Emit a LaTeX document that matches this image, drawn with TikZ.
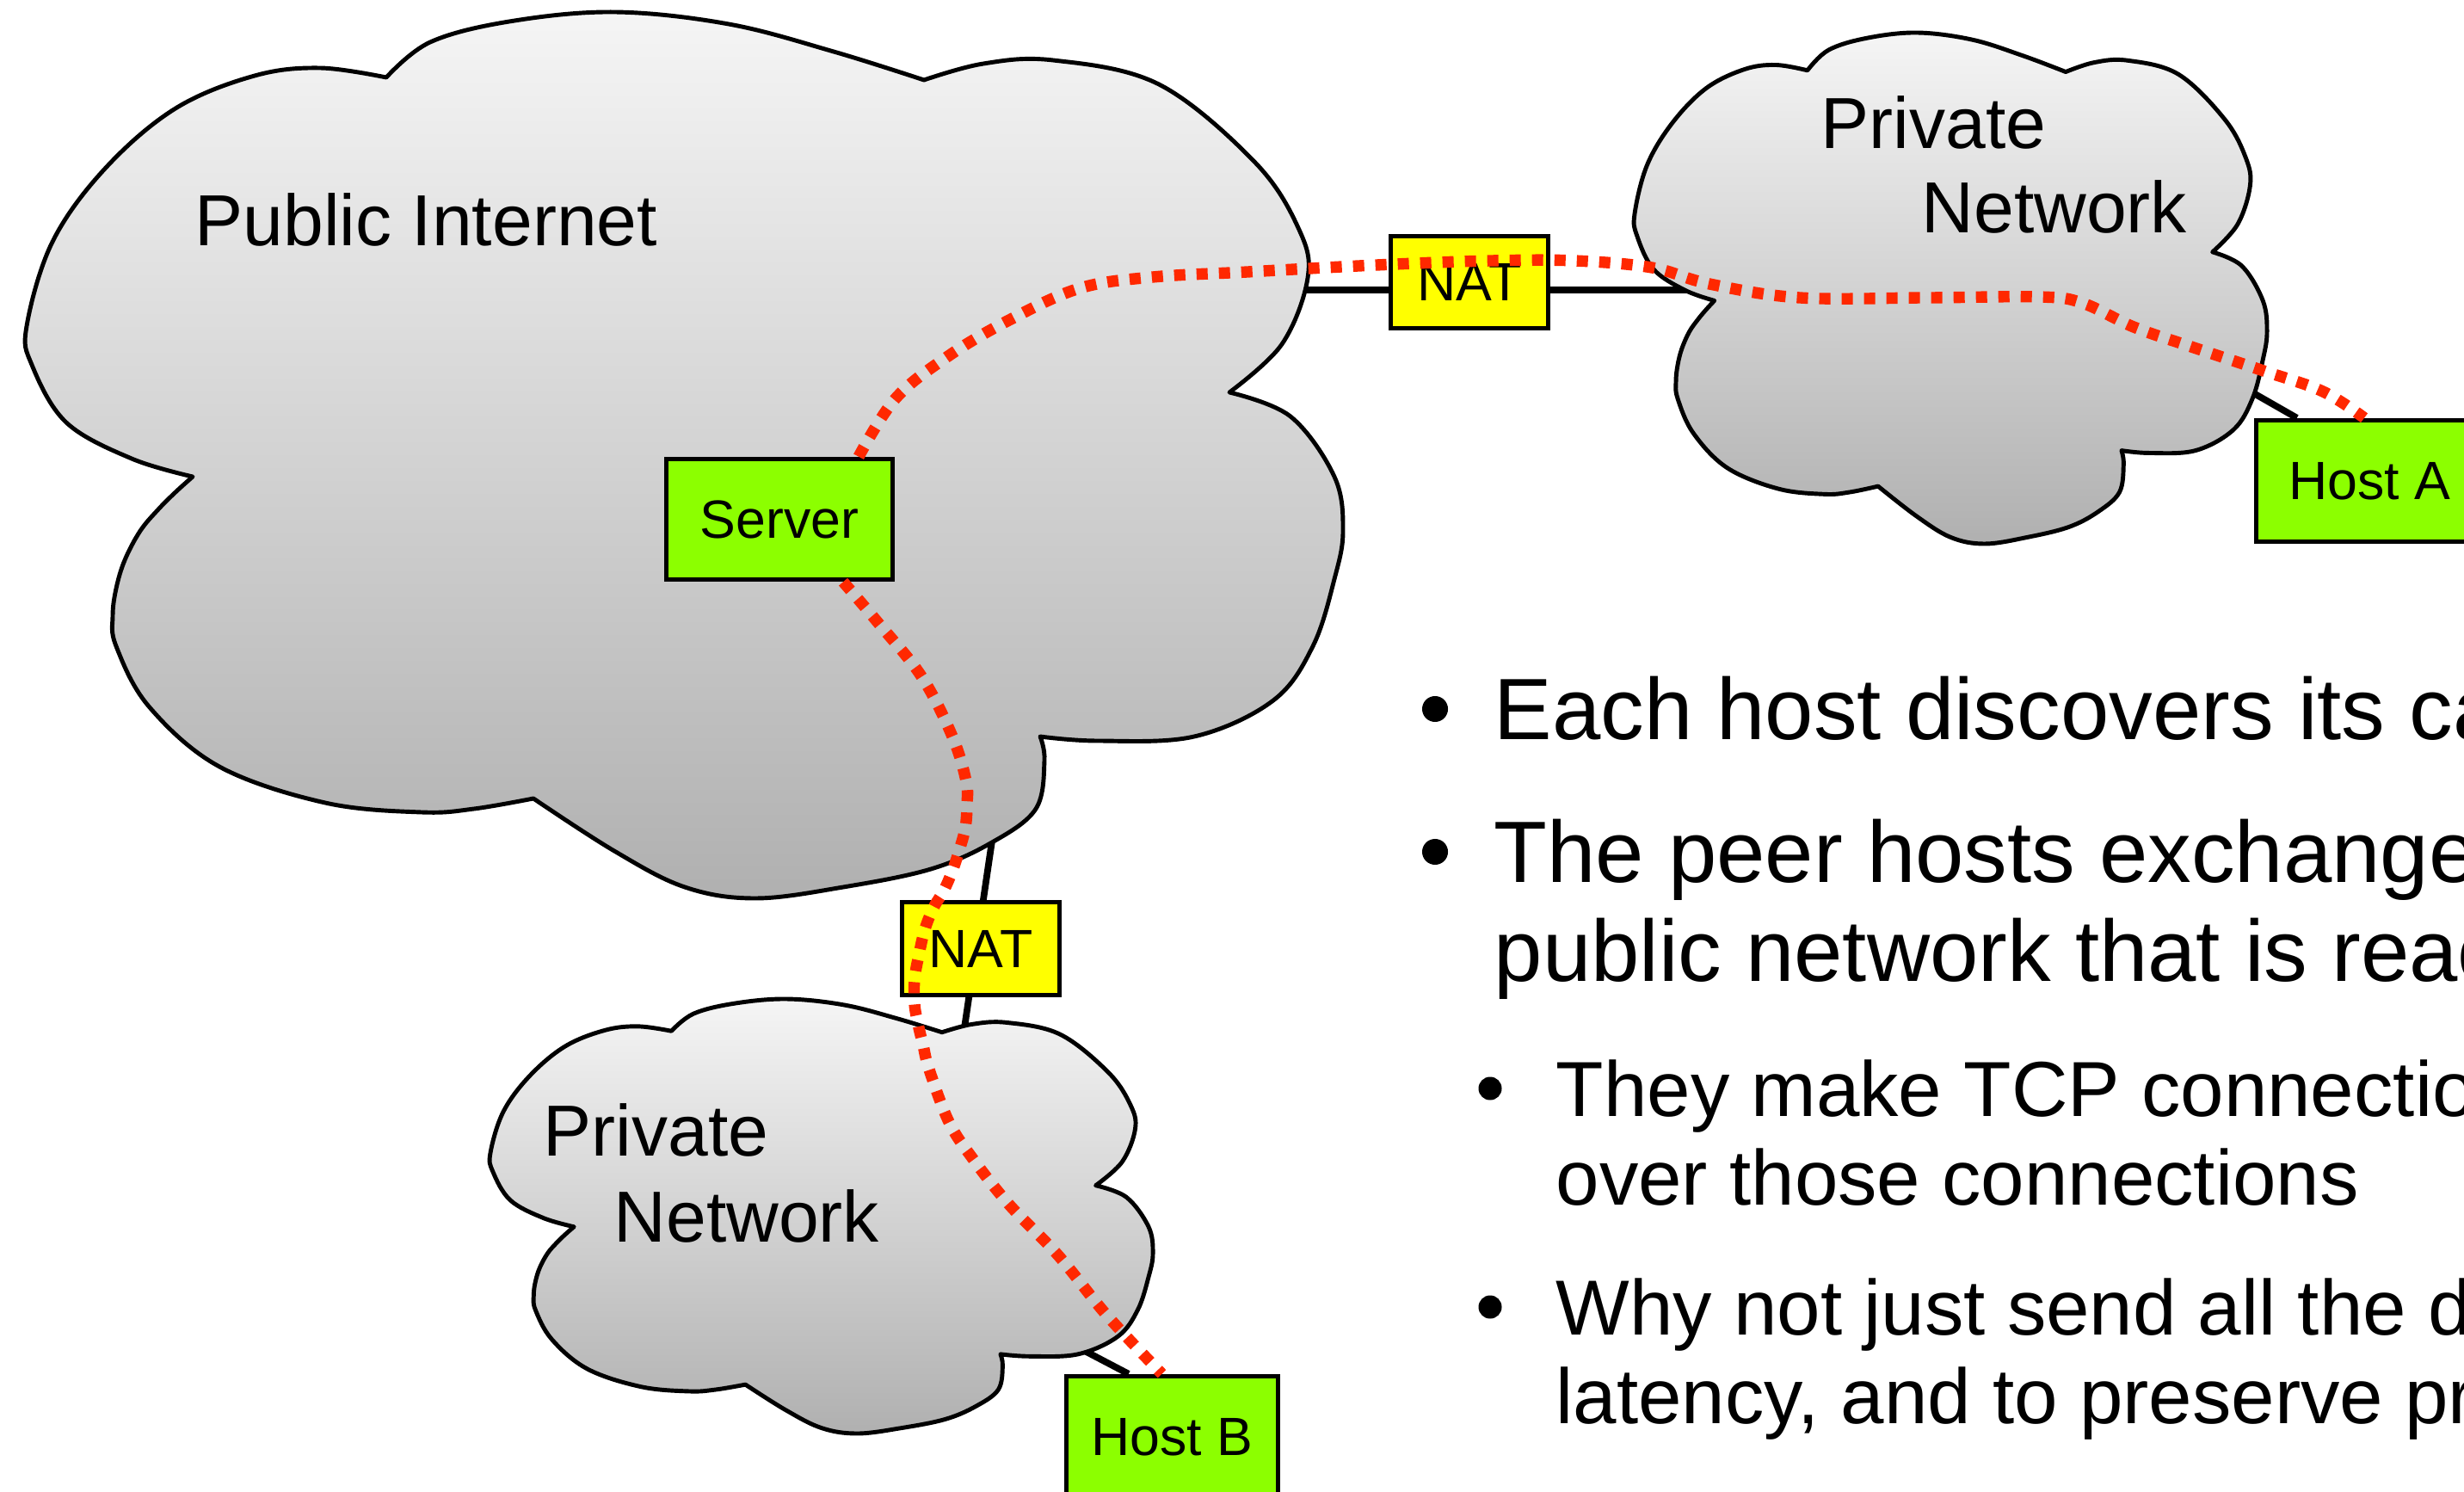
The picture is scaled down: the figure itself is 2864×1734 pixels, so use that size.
\documentclass[tikz,border=0pt]{standalone}
\usepackage{fontspec}
\setmainfont{Liberation Sans}
\definecolor{natyellow}{RGB}{255,255,0}
\definecolor{hostgreen}{RGB}{140,255,0}
\definecolor{cloudtop}{RGB}{245,245,245}
\definecolor{cloudbottom}{RGB}{176,176,176}
\definecolor{punchred}{RGB}{255,40,0}
\pgfdeclarelayer{links}
\pgfdeclarelayer{clouds}
\pgfsetlayers{links,clouds,main}
\begin{document}
\begin{tikzpicture}[x=0.01cm, y=-0.01cm,
  netbox/.style={draw=black, line width=1.55pt, rectangle, inner sep=0pt,
    font=\fontsize{17.8}{21}\selectfont},
  natbox/.style={netbox, fill=natyellow, minimum width=1.83cm, minimum height=1.07cm},
  hostbox/.style={netbox, fill=hostgreen, minimum height=1.40cm},
  link/.style={line width=2.2pt, draw=black},
  cloudshape/.style={draw=black, line width=1.4pt, line join=round,
    top color=cloudtop, bottom color=cloudbottom},
  cloudlabel/.style={anchor=base west, inner sep=0pt, font=\fontsize{23.9}{28}\selectfont},
  punch/.style={draw=punchred, line width=3.8pt, dash pattern=on 3.7pt off 3.7pt},
  itemA/.style={anchor=base west, inner sep=0pt, font=\fontsize{28.8}{34}\selectfont},
  itemB/.style={anchor=base west, inner sep=0pt, font=\fontsize{25.8}{31}\selectfont},
]
\useasboundingbox (0,0) rectangle (2864,1734);
\clip (0,0) rectangle (2864,1734);

% ---- clouds: one outline, placed three times ----
\begin{pgfonlayer}{clouds}
\foreach \cx/\cy/\kx/\ky in {31/14/1/1, 1900/38/0.4804/0.5767, 570/1161/0.5033/0.4903}{
  \begin{scope}[shift={(\cx,\cy)}, xscale=\kx, yscale=\ky]
    \draw[cloudshape]
      plot[smooth, tension=0.6] coordinates {(193,540) (122,519) (46,477) (6,410) (0,365) (30,267) (91,182) (173,112) (265,74) (341,65) (418,76)}
      -- plot[smooth, tension=0.6] coordinates {(418,76) (469,35) (561,11) (683,0) (816,14) (938,46) (1043,79)}
      -- plot[smooth, tension=0.6] coordinates {(1043,79) (1112,60) (1193,56) (1316,84) (1428,175) (1479,253) (1489,309) (1459,386) (1398,442)}
      -- plot[smooth, tension=0.6] coordinates {(1398,442) (1469,470) (1520,540) (1530,603) (1520,659) (1495,737) (1449,800) (1357,842) (1245,847) (1178,842)}
      -- plot[smooth, tension=0.6] coordinates {(1178,842) (1183,870) (1173,926) (1122,965) (1051,996) (949,1017) (847,1030) (765,1017) (683,975) (589,914)}
      -- plot[smooth, tension=0.6] coordinates {(589,914) (520,926) (459,930) (347,919) (224,877) (142,807) (104,737) (100,702) (104,670) (114,637) (132,603) (153,578) (173,558) (193,540)}
      -- cycle;
  \end{scope}
}
\end{pgfonlayer}

% ---- cloud labels ----
\node[cloudlabel] (lbl-pi)  at (226,286)  {Public Internet};
\node[cloudlabel] (lbl-pa1) at (2116,173) {Private};
\node[cloudlabel] (lbl-pa2) at (2233,271) {Network};
\node[cloudlabel] (lbl-pb1) at (631,1343)  {Private};
\node[cloudlabel] (lbl-pb2) at (713,1443)  {Network};

% ---- devices ----
\node[hostbox, minimum width=2.63cm] (server) at (906,603.5) {Server};
\node[natbox] (nat-a) at (1708,328) {NAT};
\node[natbox, minimum height=1.08cm] (nat-b) at (1140,1102.5) {NAT};
\node[hostbox, minimum width=2.63cm, minimum height=1.41cm] (hostA) at (2754,559) {Host A};
\node[hostbox, minimum width=2.46cm, minimum height=1.41cm] (hostB) at (1362.5,1670) {Host B};

% ---- attachment points inside the clouds ----
\coordinate (pi-e)  at (1450,337);
\coordinate (pa-w)  at (2050,337);
\coordinate (pi-s)  at (1160,930);
\coordinate (pb-n)  at (1115,1235);
\coordinate (pa-se) at (2560,423);
\coordinate (pb-se) at (1215,1546);

% ---- physical links (behind the clouds) ----
\begin{pgfonlayer}{links}
\draw[link] (pi-e) -- (pi-e -| nat-a.west) (pa-w -| nat-a.east) -- (pa-w);
\draw[link] (pi-s) -- (pb-n);
\draw[link] (pa-se) -- ([xshift=0.5cm]hostA.north west);
\draw[link] (pb-se) -- ([xshift=0.75cm]hostB.north west);
\end{pgfonlayer}

% ---- signalling paths through the server ----
\coordinate (ra0) at ([xshift=0.92cm]server.north);
\coordinate (ra1) at ([xshift=-0.06cm]hostA.north);
\coordinate (rb0) at ([xshift=0.74cm]server.south);
\coordinate (rb1) at ([xshift=-0.12cm]hostB.north);
\draw[punch] plot[smooth, tension=0.6] coordinates {(ra0) (1041,463) (1102,414) (1173,372) (1255,335) (1340,322) (1450,316) (1600,308) (1733,303) (1830,303) (1920,311) (1987,330) (2092,346) (2239,346) (2370,345) (2420,352) (2480,380) (2544,402) (2631,431) (2700,455) (ra1)};
\draw[punch] plot[smooth, tension=0.6] coordinates {(rb0) (1020,723) (1071,786) (1107,856) (1123,908) (1124,935) (1122,962) (1115,988) (1107,1012) (1097,1035) (1085,1055) (1075,1080) (1068,1110) (1063,1138) (1063,1167) (1067,1190) (1073,1215) (1080,1243) (1103,1304) (1131,1347) (1173,1400) (1230,1459) (1286,1528) (rb1)};

% ---- bullet list ----
\fill (1668,824)  circle[radius=0.15cm] coordinate (dot1);
\fill (1668,990)  circle[radius=0.15cm] coordinate (dot2);
\fill (1732,1265) circle[radius=0.135cm] coordinate (dot3);
\fill (1732,1519) circle[radius=0.135cm] coordinate (dot4);
\node[itemA] (t1)  at (1736,859)  {Each host discovers its ca};
\node[itemA] (t2a) at (1736,1025) {The peer hosts exchange};
\node[itemA] (t2b) at (1736,1140) {public network that is reac};
\node[itemB] (t3a) at (1808,1297) {They make TCP connectio};
\node[itemB] (t3b) at (1808,1400) {over those connections};
\node[itemB] (t4a) at (1808,1551) {Why not just send all the d};
\node[itemB] (t4b) at (1808,1654) {latency, and to preserve pr};
\end{tikzpicture}
\end{document}
